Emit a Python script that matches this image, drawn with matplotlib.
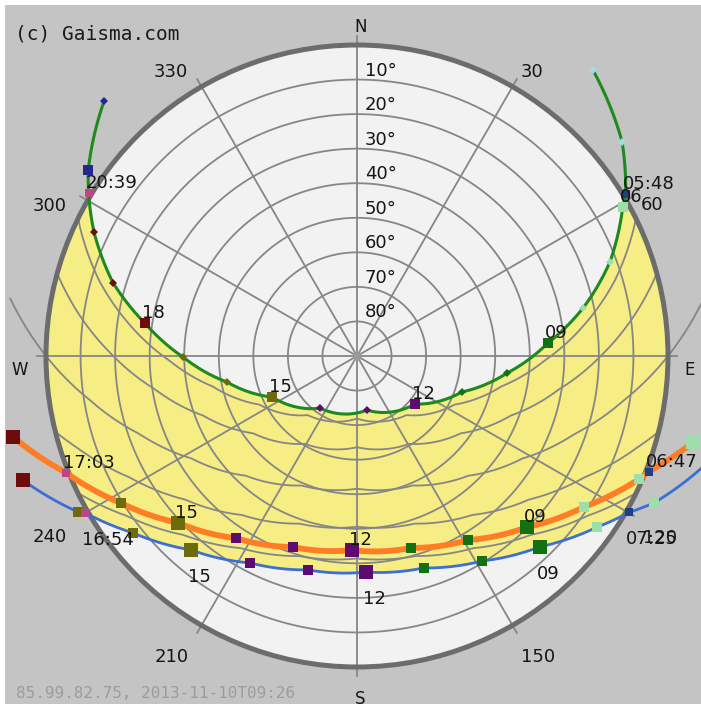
import numpy as np
import matplotlib.pyplot as plt
import matplotlib.patches as mpatches

# sun positions: azimuth (deg, clockwise from N), elevation (deg)
# 21 June (green)
summer_hours = [4, 5, 6, 7, 8, 9, 10, 11, 12, 13, 14, 15, 16, 17, 18, 19, 20, 21, 22]
summer_az = [39.5, 51.1, 60.7, 69.6, 78.0, 86.1, 96.5, 108.9, 129.6, 169.5,
             215.4, 244.2, 258.7, 269.7, 278.8, 286.7, 295.2, 304.7, 315.2]
summer_el = [-17.3, -8.6, 1.8, 11.9, 23.1, 34.6, 46.3, 57.9, 68.2, 74.1,
             71.5, 62.7, 51.6, 39.6, 27.9, 16.3, 5.9, -4.6, -13.9]
summer_ev_t = [5.8, 20.65]
summer_ev_az = [58.9, 301.2]
summer_ev_el = [-0.8, -0.8]
summer_ev_txt = ['05:48', '20:39']

# 10 November (orange)
today_hours = [6, 7, 8, 9, 10, 11, 12, 13, 14, 15, 16, 18]
today_az = [104.4, 113.6, 123.6, 135.2, 148.9, 164.3, 181.5, 198.5, 213.6, 227.0, 238.1, 256.8]
today_el = [-10.4, 1.0, 11.1, 20.2, 27.8, 32.3, 33.8, 31.7, 26.7, 19.2, 9.5, -12.3]
today_ev_t = [6.78, 17.05]
today_ev_az = [111.6, 248.2]
today_ev_el = [-0.8, -0.8]
today_ev_txt = ['06:47', '17:03']

# 21 December (blue)
winter_hours = [6, 7, 8, 9, 10, 11, 12, 13, 14, 15, 16, 17, 18]
winter_az = [106.5, 116.3, 125.5, 136.2, 148.6, 162.5, 177.6, 192.9, 207.3, 220.6, 231.7, 240.8, 249.6]
winter_el = [-16.5, -5.9, 4.7, 13.5, 20.5, 25.7, 27.4, 26.5, 22.6, 16.1, 7.4, -2.5, -13.1]
winter_ev_t = [7.42, 16.9]
winter_ev_az = [119.9, 240.0]
winter_ev_el = [-0.8, -0.8]
winter_ev_txt = ['07:25', '16:54']

# grey paths of the other months
may_jul_az = [63.7, 65.0, 73.8, 82.4, 91.4, 101.9, 116.4, 140.1, 180.0, 219.9, 243.6, 258.1, 268.6, 277.6, 286.2, 295.0, 296.3]
may_jul_el = [0.0, 1.5, 12.4, 23.9, 35.7, 47.3, 58.4, 67.7, 71.9, 67.7, 58.4, 47.3, 35.7, 23.9, 12.4, 1.5, 0.0]
apr_aug_az = [74.6, 80.5, 89.7, 99.4, 111.1, 126.6, 149.2, 180.0, 210.8, 233.4, 248.9, 260.6, 270.3, 279.5, 285.4]
apr_aug_el = [0.0, 7.4, 19.1, 30.8, 42.2, 52.5, 60.4, 63.6, 60.4, 52.5, 42.2, 30.8, 19.1, 7.4, 0.0]
equinox_az = [80.6, 90.0, 99.4, 109.7, 121.8, 137.1, 156.7, 180.0, 203.3, 222.9, 238.2, 250.3, 260.6, 270.0, 279.4]
equinox_el = [-11.7, 0.0, 11.7, 23.1, 33.7, 42.7, 49.2, 51.6, 49.2, 42.7, 33.7, 23.1, 11.7, 0.0, -11.7]
feb_oct_az = [104.1, 108.0, 118.1, 129.9, 144.1, 161.0, 180.0, 199.0, 215.9, 230.1, 241.9, 252.0, 255.9]
feb_oct_el = [0.0, 4.6, 15.4, 25.2, 33.2, 38.7, 40.6, 38.7, 33.2, 25.2, 15.4, 4.6, 0.0]
jan_nov_az = [116.1, 124.7, 135.8, 148.8, 163.8, 180.0, 196.2, 211.2, 224.2, 235.3, 243.9]
jan_nov_el = [0.0, 8.8, 17.8, 25.0, 29.7, 31.4, 29.7, 25.0, 17.8, 8.8, 0.0]

ring_elevations = [10, 20, 30, 40, 50, 60, 70, 80]
azimuth_labels = ['30', '60', '120', '150', '210', '240', '300', '330']
azimuth_label_pos = [(31.6, 96.5), (62.9, 95.9), (121.0, 102.3), (149.0, 101.6),
                     (211.6, 102.2), (239.5, 103.1), (296.0, 98.9), (326.8, 98.2)]
cardinal_labels = ['N', 'E', 'S', 'W']
cardinal_pos = [(0.7, 95.2), (92.4, 96.2), (179.5, 99.3), (267.6, 97.6)]

W, H = 701, 707
RMAX = 112
R_PX = 311 / 90 * RMAX
cx, cy = 357, H - 356

BG = '#c4c4c4'
GRID = '#868686'
TXT = '#151515'

fig = plt.figure(figsize=(W / 100, H / 100), dpi=100, facecolor='white')
fig.add_artist(mpatches.Rectangle((5 / W, 3 / H), (W - 5) / W, (H - 8) / H,
                                  transform=fig.transFigure, fc=BG, ec='none', zorder=-10))

ax = fig.add_axes([(cx - R_PX) / W, (cy - R_PX) / H, 2 * R_PX / W, 2 * R_PX / H],
                  projection='polar')
ax.set_theta_zero_location('N')
ax.set_theta_direction(-1)
ax.set_rlim(0, RMAX)
ax.grid(False)
ax.set_xticks([])
ax.set_yticks([])
ax.spines['polar'].set_visible(False)
ax.patch.set_visible(False)


def curved(artist):
    # let the polar transform bend segments between points
    artist.get_path()._interpolation_steps = 30
    return artist


def th(az):
    return np.radians(np.asarray(az, dtype=float))


def zen(el):
    return 90 - np.asarray(el, dtype=float)


hr = 0.5 * 90 / RMAX
ax.add_artist(mpatches.Circle((0.5, 0.5), hr, transform=ax.transAxes,
                              fc='#f2f2f2', ec='none', zorder=0.5))

# yellow band between the solstice paths
fill_az = ([summer_ev_az[0]] + summer_az[2:17] + [summer_ev_az[1], summer_ev_az[1], winter_ev_az[1],
           winter_ev_az[1]] + winter_az[10:1:-1] + [winter_ev_az[0], winter_ev_az[0], summer_ev_az[0]])
fill_el = ([summer_ev_el[0]] + summer_el[2:17] + [summer_ev_el[1], -6, -6,
           winter_ev_el[1]] + winter_el[10:1:-1] + [winter_ev_el[0], -6, -6])
poly, = ax.fill(th(fill_az), zen(fill_el), color='#f6ed84', lw=0, zorder=1)
curved(poly)
poly.set_clip_path(mpatches.Circle((0.5, 0.5), hr, transform=ax.transAxes))

# grid: elevation rings and azimuth spokes
circ = np.linspace(0, 2 * np.pi, 400)
for e in ring_elevations:
    ax.plot(circ, np.full_like(circ, 90 - e), color=GRID, lw=1.3, zorder=2)
for a in range(0, 360, 30):
    ax.plot([np.radians(a)] * 2, [0, 92.5], color=GRID, lw=1.3, zorder=2)
ax.plot(0, 0, 'o', ms=5, color='#9a9a9a', zorder=2)

for paz, pel in [(may_jul_az, may_jul_el), (apr_aug_az, apr_aug_el), (equinox_az, equinox_el),
                 (feb_oct_az, feb_oct_el), (jan_nov_az, jan_nov_el)]:
    ln, = ax.plot(th(paz), zen(pel), color=GRID, lw=1.3, zorder=2)
    curved(ln)

ax.add_artist(mpatches.Circle((0.5, 0.5), hr, transform=ax.transAxes,
                              fc='none', ec='#6c6c6c', lw=3.6, zorder=3))


def hour_color(h):
    if h < 6:
        return '#a6d8e2'
    if h < 9:
        return '#9ddfa8'
    if h < 12:
        return '#137013'
    if h < 15:
        return '#5e0b70'
    if h < 18:
        return '#6c6c0c'
    if h < 21:
        return '#6e0c0c'
    return '#26268e'


def draw_path(hours, az, el, ev_t, ev_az, ev_el, ev_txt, color, lw, small, big, small_mk, dy):
    t = np.array(list(hours) + list(ev_t))
    a = np.array(list(az) + list(ev_az))
    e = np.array(list(el) + list(ev_el))
    order = np.argsort(t)
    ln, = ax.plot(th(a[order]), zen(e[order]), color=color, lw=lw, zorder=4)
    curved(ln)
    for h, a_, e_ in zip(hours, az, el):
        major = h % 3 == 0
        ax.plot(th(a_), zen(e_), ls='none', marker='s' if major else small_mk,
                ms=big if major else small, color=hour_color(h), mew=0, zorder=5)
        if major and e_ > 0:
            ax.annotate(f'{h:02d}', xy=(th(a_), zen(e_)), xytext=(-3, dy),
                        textcoords='offset pixels', ha='left', va='baseline',
                        fontsize=13, color=TXT, zorder=6)
    for a_, e_, txt, c in zip(ev_az, ev_el, ev_txt, ['#1d3f86', '#c0448c']):
        ax.plot(th(a_), zen(e_), ls='none', marker='s', ms=6, color=c, mew=0, zorder=5)
        ax.annotate(txt, xy=(th(a_), zen(e_)), xytext=(-3, dy),
                    textcoords='offset pixels', ha='left', va='baseline',
                    fontsize=13, color=TXT, zorder=6)


draw_path(winter_hours, winter_az, winter_el, winter_ev_t, winter_ev_az, winter_ev_el,
          winter_ev_txt, '#3b6fd4', 2.0, 6.5, 9.5, 's', -32)
draw_path(today_hours, today_az, today_el, today_ev_t, today_ev_az, today_ev_el,
          today_ev_txt, '#ff7d25', 4.2, 6.5, 9.5, 's', 5)
draw_path(summer_hours, summer_az, summer_el, summer_ev_t, summer_ev_az, summer_ev_el,
          summer_ev_txt, '#1e8a1e', 2.2, 4.2, 7.5, 'D', 5)

# labels
for e in ring_elevations:
    ax.annotate(f'{e}°', xy=(0, 90 - e), xytext=(8, 4), textcoords='offset pixels',
                ha='left', va='baseline', fontsize=13, color=TXT, zorder=6)
for s, (a, r) in zip(azimuth_labels, azimuth_label_pos):
    ax.text(np.radians(a), r, s, ha='center', va='center', fontsize=13, color=TXT, zorder=6)
for s, (a, r) in zip(cardinal_labels, cardinal_pos):
    ax.text(np.radians(a), r, s, ha='center', va='center', fontsize=12, color=TXT, zorder=6)

fig.text(15 / W, 1 - 39 / H, '(c) Gaisma.com', family='DejaVu Sans Mono', fontsize=14,
         color='#1a1a1a', va='baseline')
fig.text(16 / W, 1 - 698 / H, '85.99.82.75, 2013-11-10T09:26', family='DejaVu Sans Mono',
         fontsize=11.5, color='#9c9c9c', va='baseline')

fig.savefig('out.png', dpi=100, facecolor=fig.get_facecolor())
